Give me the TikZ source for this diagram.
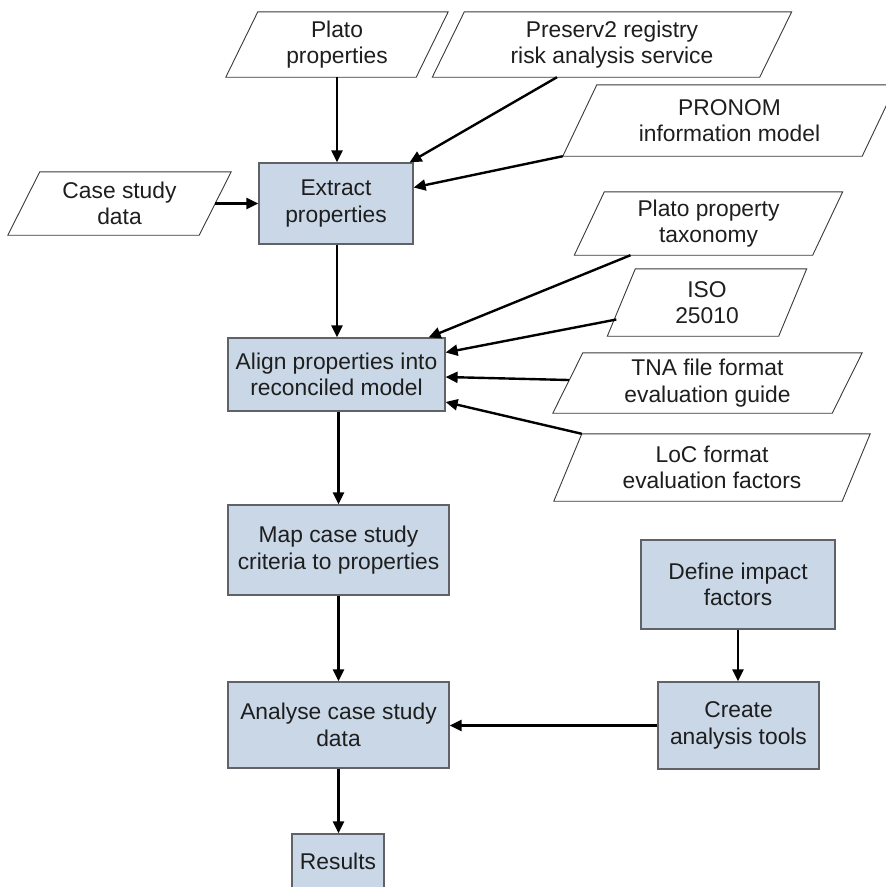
\documentclass[tikz,border=0pt]{standalone}
\usepackage{fontspec}
\setmainfont{Liberation Sans}
\usetikzlibrary{arrows.meta,calc}

\definecolor{procfill}{HTML}{C9D7E7}
\definecolor{procline}{HTML}{5F6266}
\definecolor{dataline}{HTML}{3A3A3A}
\definecolor{inktext}{HTML}{1E1E1E}

% outline of a data (parallelogram) node: #1 node name, #2 half of the slant
\newcommand\slantframe[2]{%
  \draw[dataframe] ($(#1.north west)+(#2,0)$) -- ($(#1.north east)+(#2,0)$)
    -- ($(#1.south east)+(-#2,0)$) -- ($(#1.south west)+(-#2,0)$) -- cycle;}

\begin{document}
\begin{tikzpicture}[x=1pt,y=-1pt,
  label font/.style={font=\fontsize{22.8}{26.5}\selectfont, text=inktext, align=center},
  proc/.style={label font, draw=procline, fill=procfill, line width=1.2pt, inner sep=0pt},
  data/.style={label font, draw=none, inner sep=0pt},
  dataframe/.style={draw=dataline, line width=0.9pt},
  flow/.style={-{Triangle[length=12pt,width=11pt]}, line width=2.4pt, black}]

\clip (0,0) rectangle (886,887);
\fill[white] (0,0) rectangle (886,887);

% ---- inputs ----
\node[data, minimum width=190, minimum height=65] (pp)  at (337,44.5)   {Plato\\properties};
\node[data, minimum width=327, minimum height=65] (pv)  at (612,44.5)   {Preserv2 registry\\risk analysis service};
\node[data, minimum width=299, minimum height=71] (pr)  at (729.5,120.5){PRONOM\\information model};
\node[data, minimum width=191, minimum height=63] (cs)  at (119.5,203.5){Case study\\data};
\node[data, minimum width=238, minimum height=63] (tx)  at (708.5,223.5){Plato property\\taxonomy};
\node[data, minimum width=171, minimum height=67] (iso) at (707,302.5)  {ISO\\25010};
\node[data, minimum width=279, minimum height=60] (tna) at (707.5,383)  {TNA file format\\evaluation guide};
\node[data, minimum width=288, minimum height=67] (loc) at (712,467.5)  {LoC format\\evaluation factors};

\slantframe{pp}{16}
\slantframe{pv}{16}
\slantframe{pr}{17}
\slantframe{cs}{16}
\slantframe{tx}{15}
\slantframe{iso}{14}
\slantframe{tna}{15}
\slantframe{loc}{14}

% ---- process steps ----
\node[proc, minimum width=154, minimum height=81] (ex) at (336,203.5)   {Extract\\properties};
\node[proc, minimum width=217, minimum height=73] (al) at (336.5,374.5) {Align properties into\\reconciled model};
\node[proc, minimum width=221, minimum height=90] (mp) at (338.5,550)   {Map case study\\criteria to properties};
\node[proc, minimum width=194, minimum height=89] (df) at (738,584.5)   {Define impact\\factors};
\node[proc, minimum width=161, minimum height=87] (ct) at (738.5,725.5) {Create\\analysis tools};
\node[proc, minimum width=221, minimum height=86] (an) at (338.5,725)   {Analyse case study\\data};
\node[proc, minimum width=92, minimum height=54] (rs) at (338,861)      {Results};

% ---- connectors ----
\draw[flow] (pp.south) -- (pp.south |- ex.north);
\draw[flow] ($(pv.south)+(-55,0)$) -- ($(ex.north east)+(-4,0)$);
\draw[flow] ($(pr.south west)+(-17,0)$) -- ($(ex.east)+(0,-16)$);
\draw[flow] (cs.east) -- (ex.west);

\draw[flow] (pp.south |- ex.south) -- (pp.south |- al.north);
\draw[flow] ($(tx.south)+(-78,0)$) -- ($(al.north east)+(-17,0)$);
\draw[flow] ($(iso.west)+(-5,17)$) -- ($(al.east)+(0,-22)$);
\draw[flow] ($(tna.west)+(1,-3)$) -- ($(al.east)+(0,2.5)$);
\draw[flow] ($(loc.north west)+(14,0)$) -- ($(al.east)+(0,27.5)$);

\draw[flow] (mp.north |- al.south) -- (mp.north);
\draw[flow] (mp.south) -- (an.north);
\draw[flow] (df.south) -- (df.south |- ct.north);
\draw[flow] (ct.west) -- (ct.west -| an.east);
\draw[flow] (an.south) -- (an.south |- rs.north);

\end{tikzpicture}
\end{document}
